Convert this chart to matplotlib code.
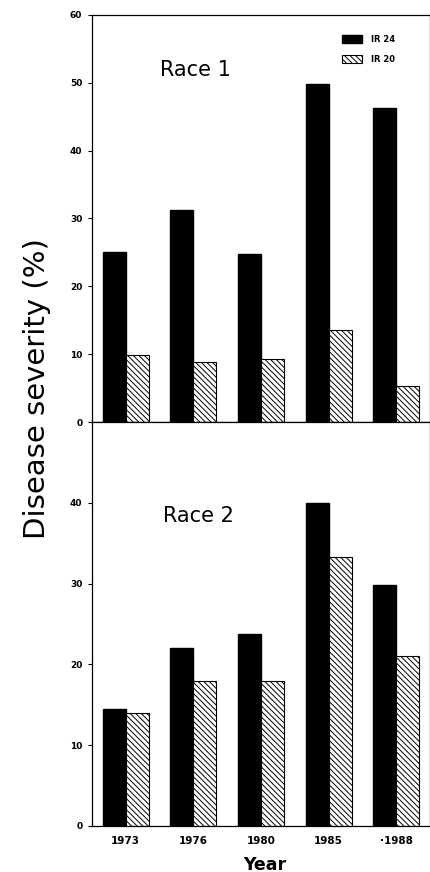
import numpy as np
import matplotlib
matplotlib.use('Agg')
import matplotlib.pyplot as plt

# disease severity (%)
years = ['1973', '1976', '1980', '1985', '\u00b71988']
race1_ir24 = [25.1, 31.2, 24.8, 49.8, 46.2]
race1_ir20 = [9.9, 8.8, 9.3, 13.6, 5.3]
race2_ir24 = [14.5, 22.0, 23.8, 40.0, 29.8]
race2_ir20 = [14.0, 18.0, 18.0, 33.3, 21.0]

plt.rcParams['font.family'] = ['DejaVu Sans']
plt.rcParams['hatch.linewidth'] = 0.7

fig = plt.figure(figsize=(4.31, 8.72), dpi=100)
ax1 = fig.add_axes([0.2135, 0.516, 0.784, 0.467])
ax2 = fig.add_axes([0.2135, 0.0528, 0.784, 0.4632])

x = np.arange(len(years))
w = 0.34

def draw(ax, a, b, ymax, ticks, label, pos):
    ax.bar(x - w/2, a, w, color='black', edgecolor='black', label='IR 24')
    ax.bar(x + w/2, b, w, color='white', edgecolor='black', hatch='\\\\\\\\\\\\', linewidth=0.8, label='IR 20')
    ax.set_xlim(-0.5, 4.5)
    ax.set_ylim(0, ymax)
    ax.set_yticks(ticks)
    ax.tick_params(axis='y', direction='out', length=3, width=0.8, labelsize=6.5, pad=4)
    for t in ax.get_yticklabels():
        t.set_fontweight('bold')
    ax.text(pos[0], pos[1], label, transform=ax.transAxes, fontsize=15, ha='left', va='center')
    for s in ax.spines.values():
        s.set_linewidth(0.9)

draw(ax1, race1_ir24, race1_ir20, 60, [0, 10, 20, 30, 40, 50, 60], 'Race 1', (0.201, 0.865))
draw(ax2, race2_ir24, race2_ir20, 50, [0, 10, 20, 30, 40], 'Race 2', (0.21, 0.767))

ax1.set_xticks([])
ax2.set_xticks(x)
ax2.set_xticklabels(years, fontsize=7.5, fontweight='bold')
ax2.tick_params(axis='x', length=0, pad=7)

ax1.legend(loc='upper left', bbox_to_anchor=(0.728, 0.96), frameon=False, borderpad=0,
           prop={'size': 6, 'weight': 'bold'}, handlelength=2.4, handleheight=1.1,
           labelspacing=1.3, handletextpad=1.1)

fig.text(0.087, 0.554, 'Disease severity (%)', rotation=90, fontsize=21,
         ha='center', va='center')
fig.text(0.615, 0.0085, 'Year', fontsize=12.5, fontweight='bold', ha='center', va='center')

fig.savefig('out.png', dpi=100)
